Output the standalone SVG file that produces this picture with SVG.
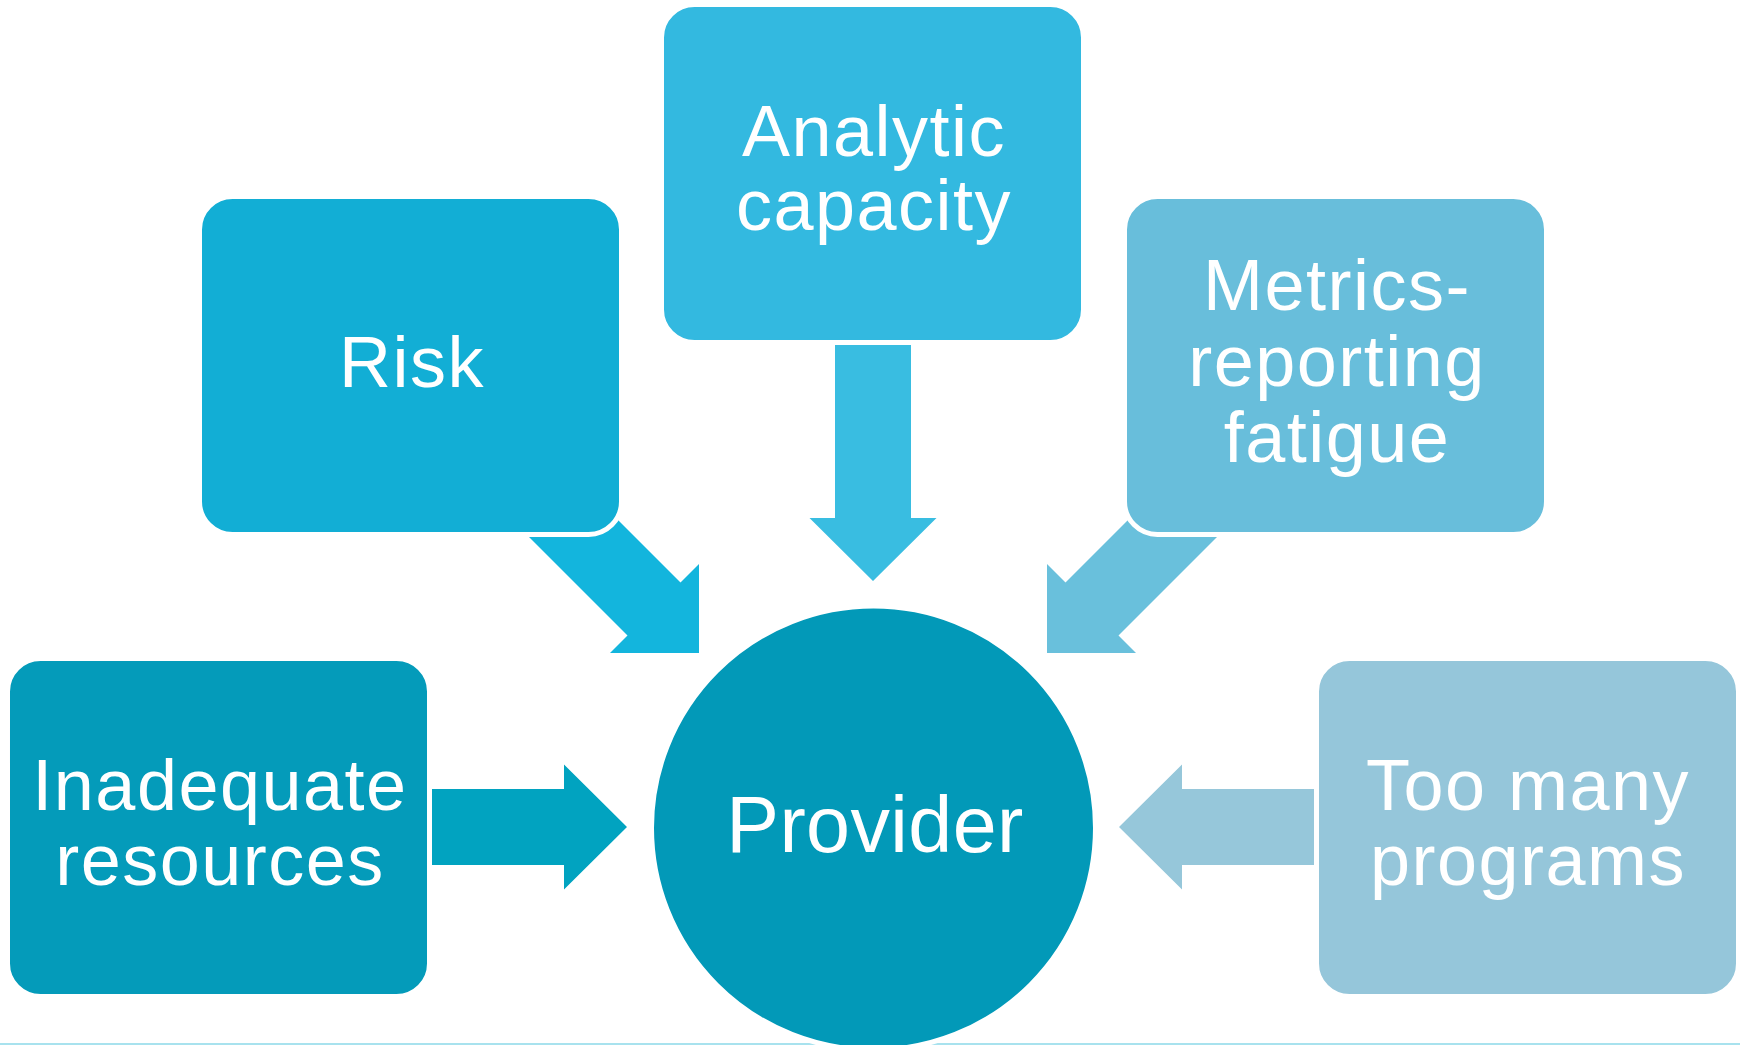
<svg xmlns="http://www.w3.org/2000/svg" width="1740" height="1045" viewBox="0 0 1740 1045">
<style>
.box{stroke:#fff;stroke-width:5}
.t{font-family:"Liberation Sans",Arial,sans-serif;font-size:72px;fill:#fff;text-anchor:middle;letter-spacing:1.5px}
.tp{font-size:79px;letter-spacing:0.4px}
</style>
<rect x="0" y="0" width="1740" height="1045" fill="#fff"/>
<rect x="0" y="1043" width="1740" height="2" fill="#a8e2ee"/>
<g id="connectors">
  <polygon id="arrow-risk" fill="#13b5dd" points="479,487 532,434 680.5,582.5 699,564 699,653 610,653 627.5,635.5"/>
  <polygon id="arrow-analytic" fill="#39bde1" points="835,320 911,320 911,518 936.5,518 873,581 809.5,518 835,518"/>
  <polygon id="arrow-metrics" fill="#69c0dc" points="1267,487 1214,434 1065.5,582.5 1047,564 1047,653 1136,653 1118.5,635.5"/>
  <polygon id="arrow-inadequate" fill="#01a3c0" points="410,789 564,789 564,764.5 627,827 564,889.5 564,865 410,865"/>
  <polygon id="arrow-toomany" fill="#96c7da" points="1336,789 1182,789 1182,764.5 1119,827 1182,889.5 1182,865 1336,865"/>
</g>
<g id="node-risk">
  <rect class="box" x="199.5" y="196.5" width="422" height="338" rx="33" fill="#12aed5"/>
  <text class="t" x="412" y="387">Risk</text>
</g>
<g id="node-analytic">
  <rect class="box" x="661.5" y="4.5" width="422" height="338" rx="33" fill="#33b9e0"/>
  <text class="t" x="874" y="156">Analytic</text>
  <text class="t" x="874" y="230">capacity</text>
</g>
<g id="node-metrics">
  <rect class="box" x="1124.5" y="196.5" width="422" height="338" rx="33" fill="#68bedb"/>
  <text class="t" x="1337" y="310">Metrics-</text>
  <text class="t" x="1337" y="386">reporting</text>
  <text class="t" x="1337" y="462">fatigue</text>
</g>
<g id="node-inadequate">
  <rect class="box" x="7.5" y="658.5" width="422" height="338" rx="33" fill="#049bba"/>
  <text class="t" x="220" y="810">Inadequate</text>
  <text class="t" x="220" y="885">resources</text>
</g>
<g id="node-toomany">
  <rect class="box" x="1316.5" y="658.5" width="422" height="338" rx="33" fill="#95c6da"/>
  <text class="t" x="1528" y="810">Too many</text>
  <text class="t" x="1528" y="885">programs</text>
</g>
<g id="node-provider">
  <circle class="box" cx="873.5" cy="828" r="222" fill="#0299b8"/>
  <text class="t tp" x="875" y="852">Provider</text>
</g>
</svg>
